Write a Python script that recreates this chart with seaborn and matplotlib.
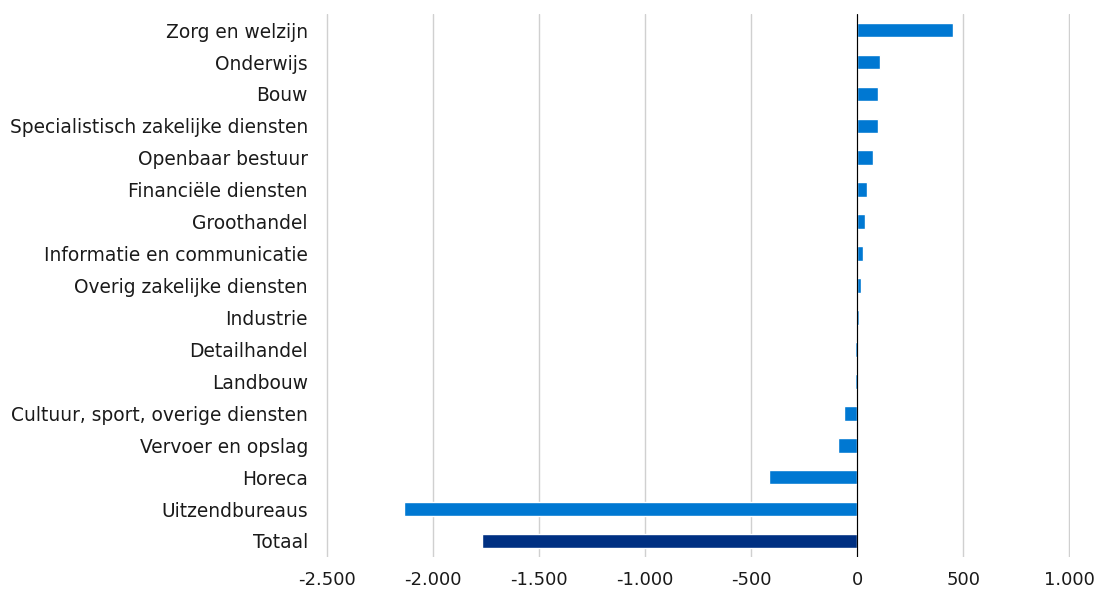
import matplotlib
matplotlib.use("Agg")
import matplotlib.pyplot as plt
from matplotlib.ticker import FuncFormatter, FixedLocator
import seaborn as sns
import pandas as pd

categories = [
    "Zorg en welzijn", "Onderwijs", "Bouw", "Specialistisch zakelijke diensten",
    "Openbaar bestuur", "Financiële diensten", "Groothandel",
    "Informatie en communicatie", "Overig zakelijke diensten", "Industrie",
    "Detailhandel", "Landbouw", "Cultuur, sport, overige diensten",
    "Vervoer en opslag", "Horeca", "Uitzendbureaus", "Totaal",
]
values = [453, 108, 100, 97, 77, 46, 35, 30, 17, 8, -9, -10, -63, -91, -417, -2137, -1769]
groups = ["sector"] * 16 + ["totaal"]
xticks = [-2500, -2000, -1500, -1000, -500, 0, 500, 1000]

df = pd.DataFrame({"categorie": categories, "waarde": values, "groep": groups})

sns.set_theme(style="white")
plt.rcParams["font.family"] = ["DejaVu Sans"]

fig, ax = plt.subplots(figsize=(10.94, 5.90), dpi=100)
fig.subplots_adjust(left=0.298, right=0.978, top=0.976, bottom=0.056)

sns.barplot(data=df, y="categorie", x="waarde", hue="groep", orient="h",
            palette={"sector": "#0078D2", "totaal": "#003082"},
            dodge=False, width=0.46, legend=False, saturation=1, ax=ax)

# kleine marge zodat de rasterlijn bij 1.000 niet wegvalt
ax.set_xlim(-2503, 1003)
ax.xaxis.set_major_locator(FixedLocator(xticks))
ax.xaxis.set_major_formatter(FuncFormatter(lambda v, p: "{:,.0f}".format(v).replace(",", ".")))
ax.grid(axis="x", color="#d0d0d0", linewidth=1)
ax.set_axisbelow(True)
ax.axvline(0, color="black", linewidth=0.8, zorder=1.5)
for s in ax.spines.values():
    s.set_visible(False)
ax.set_xlabel("")
ax.set_ylabel("")
ax.tick_params(axis="y", length=0, pad=13, labelsize=13.4, labelcolor="#1a1a1a")
ax.tick_params(axis="x", length=0, pad=10, labelsize=13, labelcolor="#1a1a1a")

fig.savefig("out.png", dpi=100)
